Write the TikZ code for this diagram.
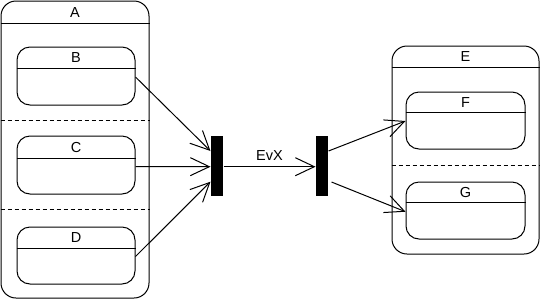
\documentclass[tikz,border=0pt]{standalone}
\usepackage{fontspec}
\setmainfont{Liberation Sans}
\usetikzlibrary{arrows.meta}
\begin{document}
\begin{tikzpicture}[x=1pt,y=-1pt,
  every path/.style={line width=1pt},
  outerbox/.style={draw,rounded corners=15pt,inner sep=0pt},
  statebox/.style={draw,rounded corners=13pt,inner sep=0pt},
  lbl/.style={inner sep=0pt,font=\fontsize{14.5}{17}\selectfont},
  bar/.style={fill=black,draw=none,minimum width=12pt,minimum height=60pt,inner sep=0pt},
  region/.style={dash pattern=on 4pt off 3pt},
  trans/.style={-{Straight Barb[length=19pt,width=18pt]}}]
\useasboundingbox (0,0) rectangle (541,301);
% A
\node[outerbox,minimum width=148pt,minimum height=297pt] (A) at (75,149.5) {};
\draw ([yshift=-22.5pt]A.north west) -- ([yshift=-22.5pt]A.north east);
\node[lbl] (Al) at (75,12.5) {A};
\draw[region] (A.west |- 0,120) -- (A.east |- 0,120);
\draw[region] (A.west |- 0,209) -- (A.east |- 0,209);
% B, C, D
\node[statebox,minimum width=118pt,minimum height=58pt] (B) at (76,76) {};
\draw ([yshift=-22pt]B.north west) -- ([yshift=-22pt]B.north east);
\node[lbl] (Bl) at (76,58) {B};
\node[statebox,minimum width=118pt,minimum height=58pt] (C) at (76,165) {};
\draw ([yshift=-23pt]C.north west) -- ([yshift=-23pt]C.north east);
\node[lbl] (Cl) at (76,147.5) {C};
\node[statebox,minimum width=118pt,minimum height=57pt] (D) at (76,255.5) {};
\draw ([yshift=-22pt]D.north west) -- ([yshift=-22pt]D.north east);
\node[lbl] (Dl) at (76,238) {D};
% E
\node[outerbox,minimum width=147pt,minimum height=208pt] (E) at (465.5,150) {};
\draw ([yshift=-22pt]E.north west) -- ([yshift=-22pt]E.north east);
\node[lbl] (El) at (465.5,57) {E};
\draw[region] (E.west |- 0,165) -- (E.east |- 0,165);
\node[statebox,minimum width=119pt,minimum height=57pt] (F) at (465.5,120.5) {};
\draw ([yshift=-21pt]F.north west) -- ([yshift=-21pt]F.north east);
\node[lbl] (Fl) at (465.5,102.5) {F};
\node[statebox,minimum width=119pt,minimum height=57pt] (G) at (465.5,210.5) {};
\draw ([yshift=-21pt]G.north west) -- ([yshift=-21pt]G.north east);
\node[lbl] (Gl) at (465.5,192.5) {G};
% bars
\node[bar] (bar1) at (217,166) {};
\node[bar] (bar2) at (322,166) {};
% transitions
\draw[trans] ([yshift=-1pt]B.east) -- ([yshift=15pt]bar1.west);
\draw[trans] ([yshift=-1.5pt]C.east) -- ([yshift=-0.7pt]bar1.west);
\draw[trans] ([yshift=-1pt]D.east) -- ([yshift=-15.7pt]bar1.west);
\draw[trans] ([yshift=-0.7pt]bar1.east) -- node[lbl,above=6pt] (evx) {EvX} ([yshift=-0.7pt]bar2.west);
\draw[trans] ([yshift=15pt]bar2.east) -- ([yshift=-0.5pt]F.west);
\draw[trans] ([xshift=3pt,yshift=-16pt]bar2.east) -- ([yshift=-1.2pt]G.west);
\end{tikzpicture}
\end{document}
